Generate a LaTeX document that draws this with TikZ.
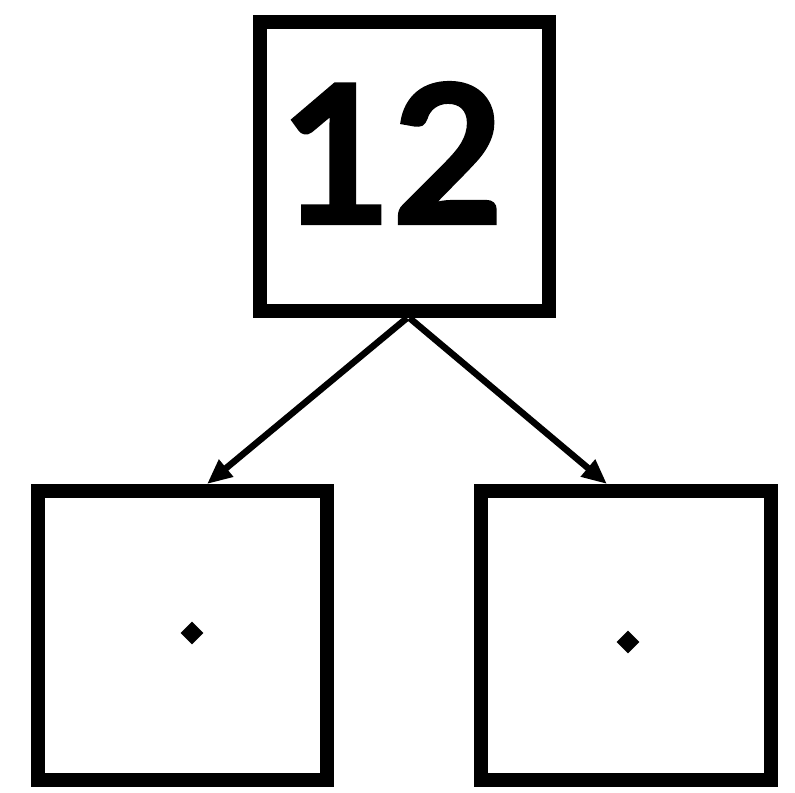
\documentclass[tikz,border=0pt]{standalone}
\usepackage{fontspec}
\usetikzlibrary{arrows.meta,shapes.geometric}
\newfontfamily\digitfont[BoldFeatures={FakeBold=1.5}]{Lato}
\begin{document}
\begin{tikzpicture}[x=0.02cm,y=-0.02cm,
  boxnode/.style={draw=black,line width=0.28cm,minimum width=5.8cm,minimum height=5.78cm,inner sep=0pt,fill=white},
  dotnode/.style={diamond,fill=black,draw=none,minimum size=0.46cm,inner sep=0pt},
  conn/.style={line width=0.13cm,-{Triangle[length=0.5cm,width=0.42cm]}},
  numtext/.style={font=\digitfont\bfseries\fontsize{110}{110}\selectfont,inner sep=0pt}]
\useasboundingbox[fill=white] (0,0) rectangle (795,793);
\node[boxnode] (top) at (404.5,166.5) {};
\node[numtext] (num) at (392,153) {12};
\node[boxnode] (bl) at (182.5,635.5) {};
\node[boxnode] (br) at (626,635.5) {};
\node[dotnode] (dl) at (192,633) {};
\node[dotnode] (dr) at (628,642) {};
\draw[conn] ([xshift=0.05cm]top.south) -- ([xshift=0.49cm]bl.north);
\draw[conn] ([xshift=0.1cm]top.south) -- ([xshift=-0.38cm]br.north);
\end{tikzpicture}
\end{document}
